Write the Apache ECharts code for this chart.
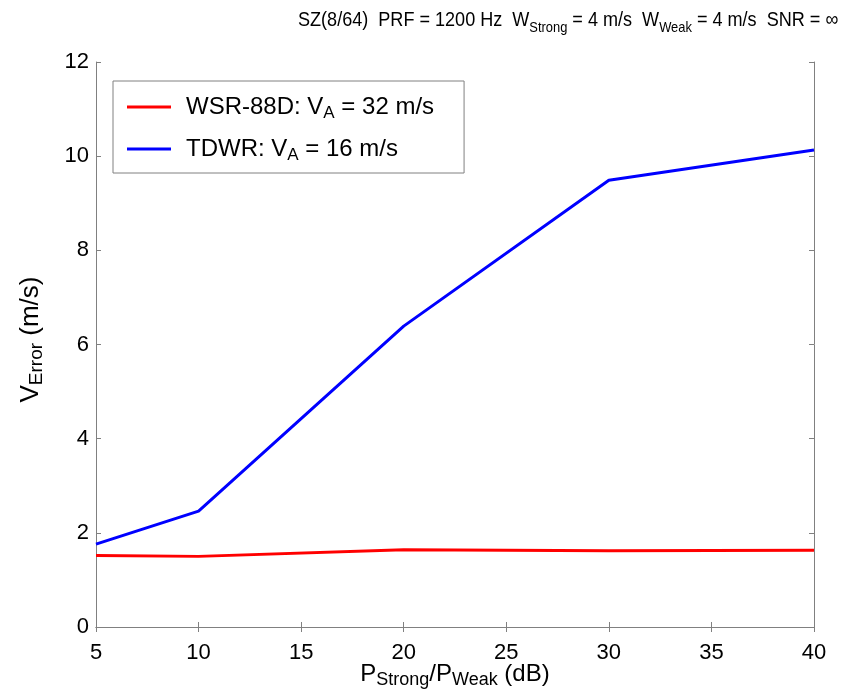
<!DOCTYPE html>
<html>
<head>
<meta charset="utf-8">
<script src="https://cdn.jsdelivr.net/npm/echarts@6/dist/echarts.min.js"></script>
<style>html,body{margin:0;padding:0;background:#fff}#c{width:853px;height:699px}</style>
</head>
<body>
<div id="c"></div>
<script>
const ratioDb = [5, 10, 20, 30, 40];
const wsrError = [1.52, 1.50, 1.64, 1.62, 1.63];
const tdwrError = [1.76, 2.46, 6.39, 9.49, 10.13];
const xTicks = [5, 10, 15, 20, 25, 30, 35, 40];
const yTicks = [0, 2, 4, 6, 8, 10, 12];
const seriesNames = ['WSR-88D', 'TDWR'];
const titleText = '{n|SZ(8/64)  PRF = 1200 Hz  W}{s|Strong}{n| = 4 m/s  W}{s|Weak}{n| = 4 m/s  SNR = ∞}';

const FONT = 'Liberation Sans, Arial, sans-serif';
const chart = echarts.init(document.getElementById('c'));
const gray = '#808080';
const pairs = (ys) => ratioDb.map((x, i) => [x, ys[i]]);
function mkRich(size, sub) {
  return {
    n: {fontSize: size, fontFamily: FONT, fontWeight: 'normal', color: '#000', lineHeight: 30, verticalAlign: 'middle'},
    s: {fontSize: sub, fontFamily: FONT, fontWeight: 'normal', color: '#000', lineHeight: sub, verticalAlign: 'bottom', padding: [22, 0, 0, 0]}
  };
}
const axBase = {
  type: 'value',
  axisLine: {show: true, lineStyle: {color: gray, width: 1}},
  axisTick: {show: true, inside: true, length: 5, lineStyle: {color: gray}},
  splitLine: {show: false}
};
chart.setOption({
  animation: false,
  backgroundColor: '#fff',
  graphic: [{
    type: 'text', left: 298, top: -2, scaleX: 0.86, z: 10,
    style: {text: titleText, rich: mkRich(21, 15)}
  }],
  grid: {left: 96, top: 62, right: 39, bottom: 72, containLabel: false, outerBoundsMode: 'none'},
  legend: {
    orient: 'vertical', left: 113, top: 81,
    padding: [2, 30, 9, 14], itemGap: 3,
    borderColor: gray, borderWidth: 1, backgroundColor: '#fff',
    itemWidth: 44, itemHeight: 3, icon: 'rect',
    data: seriesNames,
    formatter: function (name) {
      return name === 'WSR-88D'
        ? '{n|WSR-88D: V}{s|A}{n| = 32 m/s}'
        : '{n|TDWR: V}{s|A}{n| = 16 m/s}';
    },
    textStyle: {rich: mkRich(24, 17), padding: [0, 0, 0, 10]}
  },
  xAxis: [
    Object.assign({}, axBase, {
      position: 'bottom', min: xTicks[0], max: xTicks[xTicks.length - 1], interval: 5,
      axisLabel: {fontSize: 22, fontFamily: FONT, color: '#000', margin: 15},
      name: '{n|P}{s|Strong}{n|/P}{s|Weak}{n| (dB)}',
      nameLocation: 'middle', nameGap: 32, nameMoveOverlap: false,
      nameTextStyle: {rich: mkRich(24, 18)}
    }),
    Object.assign({}, axBase, {
      position: 'top', min: xTicks[0], max: xTicks[xTicks.length - 1], interval: 5,
      axisLabel: {show: false}
    })
  ],
  yAxis: [
    Object.assign({}, axBase, {
      position: 'left', min: yTicks[0], max: yTicks[yTicks.length - 1], interval: 2,
      axisLabel: {fontSize: 22, fontFamily: FONT, color: '#000', margin: 7},
      name: '{n|V}{s|Error}{n| (m/s)}',
      nameLocation: 'middle', nameGap: 50, nameRotate: 90, nameMoveOverlap: false,
      nameTextStyle: {rich: mkRich(26, 19), padding: [0, 0, 0, 10]}
    }),
    Object.assign({}, axBase, {
      position: 'right', min: yTicks[0], max: yTicks[yTicks.length - 1], interval: 2,
      axisLabel: {show: false}
    })
  ],
  series: [
    {name: seriesNames[0], type: 'line', data: pairs(wsrError), showSymbol: false, symbol: 'none',
     lineStyle: {color: '#ff0000', width: 3}, itemStyle: {color: '#ff0000'}},
    {name: seriesNames[1], type: 'line', data: pairs(tdwrError), showSymbol: false, symbol: 'none',
     lineStyle: {color: '#0000ff', width: 3}, itemStyle: {color: '#0000ff'}}
  ]
});
</script>
</body>
</html>
